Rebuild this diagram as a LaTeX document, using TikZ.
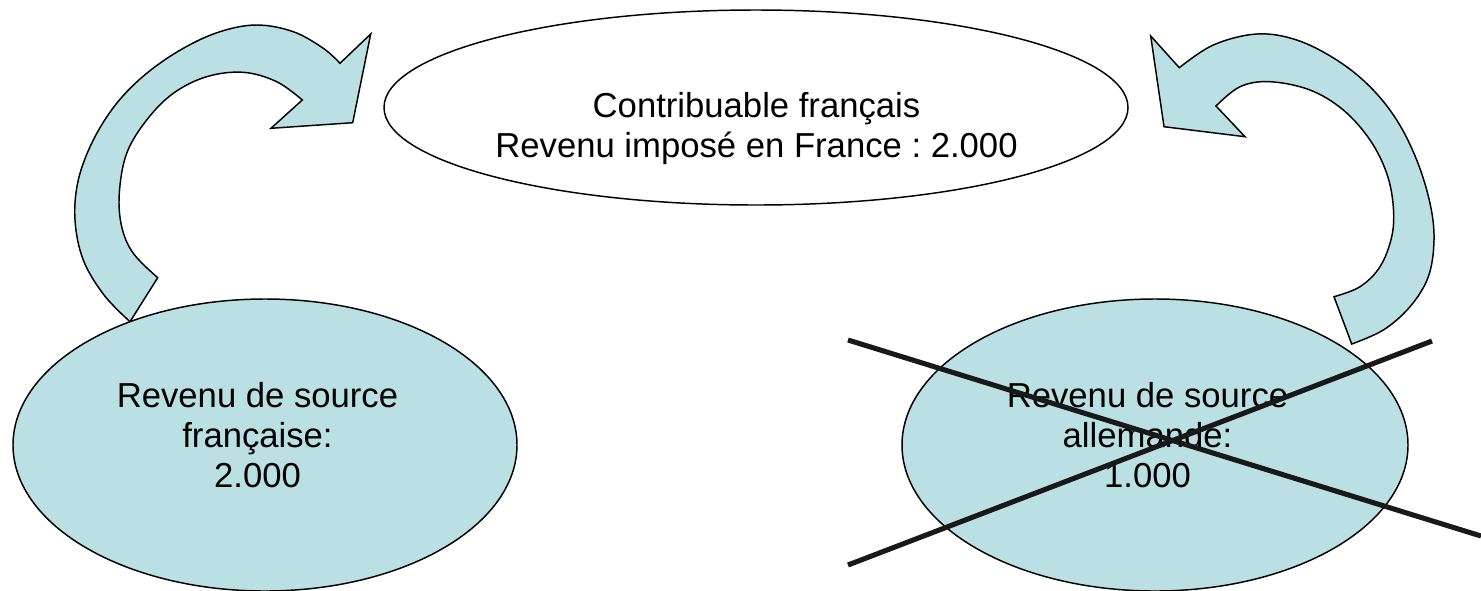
\documentclass[tikz,border=0pt]{standalone}
\usepackage{fontspec}
\setmainfont{Liberation Sans}
\usetikzlibrary{shapes.geometric}
\definecolor{arrfill}{RGB}{186,224,227}
\tikzset{
  ell/.style={ellipse, draw=black, line width=1.1pt, inner sep=0pt},
  lbl/.style={align=center, anchor=base, inner sep=0pt, font=\fontsize{26}{30}\selectfont\frenchspacing},
  arrowshape/.style={fill=arrfill, draw=black, line width=1.1pt, line join=miter},
  crossline/.style={draw=black!90, line width=3.8pt}
}
\begin{document}
\frenchspacing
\begin{tikzpicture}[x=0.75pt, y=-0.75pt]
\useasboundingbox (0,0) rectangle (1481,590);
% left curved arrow
\filldraw[arrowshape] (130,321.7) -- plot[smooth, tension=0.6] coordinates {(130,321.7) (104,295) (83.3,260) (75,220) (78.3,180) (93.3,140) (116.7,103.3) (146.7,73.3) (183.3,48.3) (220,31.7) (256.7,25) (293.3,31.7) (323.3,48.3) (340,63.3)}
  -- (370.7,34) -- (352.7,122.7) -- (271,128.3) -- (302.3,100)
  -- plot[smooth, tension=0.6] coordinates {(302.3,100) (276.7,81.7) (243.3,72.3) (206.7,76.7) (173.3,93.3) (146.7,120) (126.7,153.3) (119.3,193.3) (121.7,226.7) (133.3,253.3) (157.7,277.7)}
  -- cycle;
% right curved arrow
\filldraw[arrowshape] (1150.7,36) -- (1179.3,67.7)
  -- plot[smooth, tension=0.6] coordinates {(1179.3,67.7) (1213.3,45) (1256.7,34) (1296.7,40) (1336.7,60) (1370,86.7) (1396.7,120) (1416.7,160) (1430,203.3) (1434,240) (1428.3,276.7) (1410,306.7) (1383.3,330) (1351.7,344)}
  -- (1334,296.7)
  -- plot[smooth, tension=0.6] coordinates {(1334,296.7) (1360,286.7) (1380,266.7) (1391.7,236.7) (1393.3,206.7) (1386.7,173.3) (1370,140) (1343.3,110) (1310,90) (1270,81.7) (1240,86.7) (1216,106)}
  -- (1245,136.7) -- (1164,126.7) -- cycle;
% ellipses
\node[ell, fill=white, minimum width=558pt, minimum height=146.25pt] (top) at (756,107.5) {};
\node[ell, fill=arrfill, minimum width=378pt, minimum height=219pt] (left) at (265,445) {};
\node[ell, fill=arrfill, minimum width=379.5pt, minimum height=219pt] (right) at (1155,445) {};
% texts (base anchor = baseline of last line)
\node[lbl] (toptext) at (756.5,157) {Contribuable français\\Revenu imposé en France : 2.000};
\node[lbl] (lefttext) at (257.5,487) {Revenu de source\\française:\\2.000};
\node[lbl] (righttext) at (1147.5,487) {Revenu de source\\allemande:\\1.000};
% cross
\coordinate (c1a) at (848,340);
\coordinate (c1b) at (1481,536);
\coordinate (c2a) at (848,565);
\coordinate (c2b) at (1432,341);
\draw[crossline] (c1a) -- (c1b);
\draw[crossline] (c2a) -- (c2b);
\end{tikzpicture}
\end{document}
